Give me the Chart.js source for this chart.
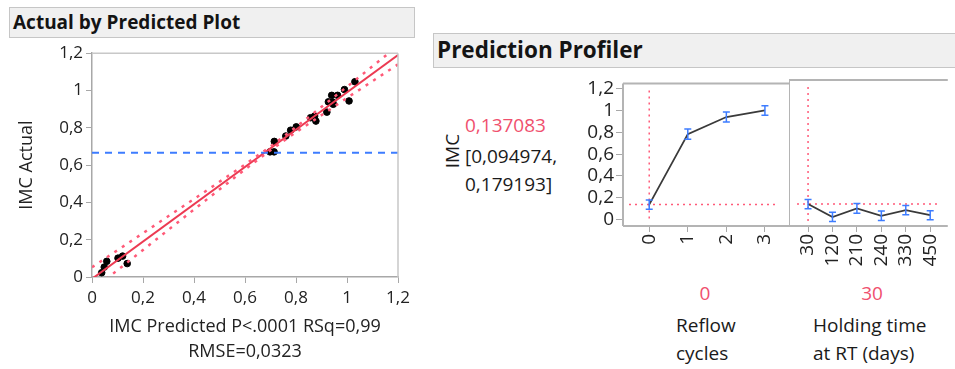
<!DOCTYPE html>
<html><head><meta charset="utf-8">
<script src="https://cdn.jsdelivr.net/npm/chart.js@4/dist/chart.umd.min.js"></script>
<style>
body{margin:0;width:955px;height:369px;overflow:hidden;background:#fff;font-family:"Open Sans",sans-serif;position:relative}
.bar{position:absolute;background:#f0f0f0;border:1px solid #c6c6c6;font-weight:bold;color:#141414;box-sizing:border-box;padding-left:3px}
.t{position:absolute;white-space:nowrap;color:#1a1a1a;font-size:19px;line-height:28px}
.red{color:#f0506e}
canvas{position:absolute}
</style></head><body>
<div class="bar" style="left:9px;top:7px;width:406px;height:31px;font-size:19px;line-height:28px">Actual by Predicted Plot</div>
<div class="bar" style="left:433px;top:33px;width:530px;height:35px;font-size:22.5px;line-height:32px">Prediction Profiler</div>

<div class="t" style="left:438px;top:143px;transform:rotate(-90deg);transform-origin:14px 14px;width:40px;text-align:center">IMC</div>
<div class="t red" id="curVal" style="left:465px;top:111px"></div>
<div class="t" id="ciLo" style="left:465px;top:142px"></div>
<div class="t" id="ciHi" style="left:465px;top:170px"></div>

<div class="t red" id="curX1" style="left:665px;top:279px;width:80px;text-align:center"></div>
<div class="t red" id="curX2" style="left:832px;top:279px;width:80px;text-align:center"></div>
<div class="t" style="left:676px;top:311px">Reflow<br>cycles</div>
<div class="t" style="left:813px;top:311px">Holding time<br>at RT (days)</div>

<canvas id="c1" width="420" height="329" style="left:0;top:40px"></canvas>
<canvas id="c2" width="230" height="210" style="left:560px;top:70px"></canvas>
<canvas id="c3" width="166" height="210" style="left:789px;top:70px"></canvas>
<script>
// Actual by predicted
const predicted = [0.038,0.048,0.058,0.102,0.120,0.138,0.698,0.714,0.715,0.760,0.779,0.801,0.857,0.873,0.878,0.921,0.927,0.940,0.944,0.946,0.963,0.990,1.008,1.031];
const actual    = [0.023,0.053,0.084,0.101,0.112,0.072,0.671,0.671,0.727,0.756,0.787,0.805,0.854,0.863,0.836,0.884,0.939,0.974,0.938,0.926,0.974,1.005,0.944,1.047];
const fitX = [0, 1.2];
const fitY = [-0.01, 1.19];
const bandX     = [0, 0.2, 0.4, 0.6, 0.7, 0.8, 1.0, 1.2];
const bandUpper = [0.052, 0.235, 0.418, 0.603, 0.700, 0.804, 1.020, 1.240];
const bandLower = [-0.072, 0.145, 0.362, 0.577, 0.680, 0.776, 0.960, 1.140];
const meanActual = 0.666;
const apTicks = [0, 0.2, 0.4, 0.6, 0.8, 1, 1.2];
const xTitle = ['IMC Predicted P<.0001 RSq=0,99', 'RMSE=0,0323'];

// Prediction profiler
const currentIMC = 0.137083;
const currentCI = [0.094974, 0.179193];
const reflowX  = [0, 1, 2, 3];
const reflowY  = [0.137, 0.785, 0.942, 1.002];
const reflowLo = [0.095, 0.738, 0.897, 0.958];
const reflowHi = [0.179, 0.832, 0.987, 1.046];
const holdLabels = ['30', '120', '210', '240', '330', '450'];
const holdY  = [0.137, 0.020, 0.098, 0.032, 0.083, 0.038];
const holdLo = [0.095, -0.020, 0.055, -0.010, 0.040, -0.005];
const holdHi = [0.179, 0.063, 0.142, 0.074, 0.124, 0.078];
const currentReflow = 0;
const currentHold = 0; // index into holdLabels
const profTicks = [0, 0.2, 0.4, 0.6, 0.8, 1, 1.2];

const fmt = v => String(Number(v.toFixed(6))).replace('.', ',');
const INK = '#222';
const RED = '#ec3a52';
const PINK = '#ff5a78';
const BLUE = '#3d7cff';

document.getElementById('curVal').textContent = fmt(currentIMC);
document.getElementById('ciLo').textContent = '[' + fmt(currentCI[0]) + ',';
document.getElementById('ciHi').textContent = fmt(currentCI[1]) + ']';
document.getElementById('curX1').textContent = fmt(reflowX[currentReflow]);
document.getElementById('curX2').textContent = holdLabels[currentHold];

Chart.defaults.font.family = '"Open Sans", sans-serif';
Chart.defaults.color = INK;

const zip = (xs, ys) => xs.map((x, i) => ({x: x, y: ys[i]}));

const frame = (color, width, sides) => ({
    id: 'frame',
    afterDraw(chart) {
        const a = chart.chartArea, ctx = chart.ctx;
        ctx.save();
        ctx.strokeStyle = color;
        ctx.lineWidth = width;
        ctx.beginPath();
        if (sides.includes('t')) { ctx.moveTo(a.left, a.top); ctx.lineTo(a.right, a.top); }
        if (sides.includes('r')) { ctx.moveTo(a.right, a.top); ctx.lineTo(a.right, a.bottom); }
        if (sides.includes('l')) { ctx.moveTo(a.left, a.top); ctx.lineTo(a.left, a.bottom); }
        if (sides.includes('b')) { ctx.moveTo(a.left, a.bottom); ctx.lineTo(a.right, a.bottom); }
        ctx.stroke();
        ctx.restore();
    }
});

new Chart('c1', {
    data: {
        datasets: [
            {type: 'line', data: zip(bandX, bandUpper), borderColor: PINK, borderWidth: 2.5, borderDash: [3, 6], pointRadius: 0, tension: 0, clip: 0},
            {type: 'line', data: zip(bandX, bandLower), borderColor: PINK, borderWidth: 2.5, borderDash: [3, 6], pointRadius: 0, tension: 0, clip: 0},
            {type: 'line', data: [{x: 0, y: meanActual}, {x: 1.2, y: meanActual}], borderColor: BLUE, borderWidth: 2, borderDash: [7, 6], pointRadius: 0, clip: 0},
            {type: 'line', data: zip(fitX, fitY), borderColor: RED, borderWidth: 2, pointRadius: 0, clip: 0},
            {type: 'scatter', data: zip(predicted, actual), backgroundColor: '#000', borderColor: '#000', pointRadius: 3.3}
        ]
    },
    options: {
        responsive: false, animation: false, devicePixelRatio: 1,
        layout: {padding: {top: 8, right: 22, left: 0, bottom: 0}},
        plugins: {legend: {display: false}, tooltip: {enabled: false}},
        scales: {
            x: {
                type: 'linear', min: 0, max: 1.2,
                afterFit(s) { s.height = 92 },
                afterBuildTicks(s) { s.ticks = apTicks.map(v => ({value: v})) },
                ticks: {callback: fmt, font: {size: 17}, color: INK, padding: 5, maxRotation: 0, autoSkip: false},
                grid: {drawOnChartArea: false, tickLength: 6, color: '#a8a8a8'},
                border: {color: '#a8a8a8', width: 1.5},
                title: {display: true, text: xTitle, font: {size: 18, lineHeight: '25px'}, color: INK, padding: {top: 0, bottom: 5}}
            },
            y: {
                type: 'linear', min: 0, max: 1.2,
                afterFit(s) { s.width = 92 },
                afterBuildTicks(s) { s.ticks = apTicks.map(v => ({value: v})) },
                ticks: {callback: fmt, font: {size: 17}, color: INK, padding: 3, autoSkip: false},
                grid: {drawOnChartArea: false, tickLength: 6, color: '#a8a8a8'},
                border: {color: '#a8a8a8', width: 1.5},
                title: {display: true, text: 'IMC Actual', font: {size: 18}, color: INK, padding: {top: 16, bottom: 0}}
            }
        }
    },
    plugins: [frame('#c8c8c8', 1.5, 'tr')]
});

// error bars and current-setting reference lines for a profiler panel
const profPlugin = (xs, lo, hi, curX, insetL, insetR) => ({
    id: 'prof',
    beforeDatasetsDraw(chart) {
        const a = chart.chartArea, ctx = chart.ctx;
        const sx = chart.scales.x, sy = chart.scales.y;
        ctx.save();
        ctx.strokeStyle = PINK;
        ctx.lineWidth = 1.5;
        ctx.setLineDash([2, 4]);
        const yc = sy.getPixelForValue(currentIMC);
        ctx.beginPath();
        ctx.moveTo(a.left + insetL, yc); ctx.lineTo(a.right - insetR, yc);
        const xc = sx.getPixelForValue(curX);
        ctx.moveTo(xc, a.top + 7); ctx.lineTo(xc, a.bottom - 4);
        ctx.stroke();
        ctx.restore();
    },
    afterDatasetsDraw(chart) {
        const ctx = chart.ctx, sx = chart.scales.x, sy = chart.scales.y;
        ctx.save();
        ctx.strokeStyle = BLUE;
        ctx.lineWidth = 1.5;
        xs.forEach((x, i) => {
            const px = sx.getPixelForValue(x), y1 = sy.getPixelForValue(lo[i]), y2 = sy.getPixelForValue(hi[i]);
            ctx.beginPath();
            ctx.moveTo(px, y1); ctx.lineTo(px, y2);
            ctx.moveTo(px - 3.5, y1); ctx.lineTo(px + 3.5, y1);
            ctx.moveTo(px - 3.5, y2); ctx.lineTo(px + 3.5, y2);
            ctx.stroke();
        });
        ctx.restore();
    }
});

const profY = (show) => ({
    type: 'linear', min: -0.06, max: 1.251, display: show ? true : false,
    afterFit(s) { s.width = show ? 63 : 0 },
    afterBuildTicks(s) { s.ticks = profTicks.map(v => ({value: v})) },
    ticks: {callback: fmt, font: {size: 19}, color: INK, padding: 2, autoSkip: false},
    grid: {drawOnChartArea: false, tickLength: 7, color: '#a8a8a8'},
    border: {display: false}
});

const profX = (min, max, vals, labelFn) => ({
    type: 'linear', min: min, max: max,
    afterFit(s) { s.height = 54 },
    afterBuildTicks(s) { s.ticks = vals.map(v => ({value: v})) },
    ticks: {callback: labelFn, font: {size: 19}, color: INK, padding: 2, minRotation: 90, maxRotation: 90, autoSkip: false},
    grid: {drawOnChartArea: false, tickLength: 6, color: '#a8a8a8'},
    border: {display: false}
});

new Chart('c2', {
    type: 'line',
    data: {datasets: [{data: zip(reflowX, reflowY), borderColor: '#3a3a3a', borderWidth: 1.8, pointRadius: 0, tension: 0}]},
    options: {
        responsive: false, animation: false, devicePixelRatio: 1,
        layout: {padding: {top: 10, right: 0, left: 0, bottom: 0}},
        plugins: {legend: {display: false}, tooltip: {enabled: false}},
        scales: {x: profX(-0.68, 3.65, reflowX, v => fmt(v)), y: profY(true)}
    },
    plugins: [frame('#b4b4b4', 2, 'tlbr'), profPlugin(reflowX, reflowLo, reflowHi, reflowX[currentReflow], 6, 11)]
});

const holdIdx = holdLabels.map((l, i) => i);
new Chart('c3', {
    type: 'line',
    data: {datasets: [{data: zip(holdIdx, holdY), borderColor: '#3a3a3a', borderWidth: 1.8, pointRadius: 0, tension: 0}]},
    options: {
        responsive: false, animation: false, devicePixelRatio: 1,
        layout: {padding: {top: 10, right: 0, left: 0, bottom: 0}},
        plugins: {legend: {display: false}, tooltip: {enabled: false}},
        scales: {x: profX(-0.78, 5.72, holdIdx, v => holdLabels[v]), y: profY(false)}
    },
    plugins: [frame('#b4b4b4', 2, 'tlb'), profPlugin(holdIdx, holdLo, holdHi, currentHold, 8, 7)]
});
</script>
</body></html>
